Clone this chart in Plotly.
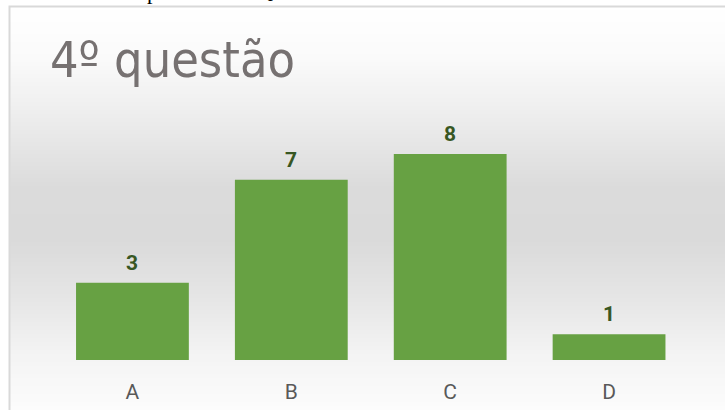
import plotly.graph_objects as go

categories = ["A", "B", "C", "D"]
values = [3, 7, 8, 1]
title_text = "4º questão"

W, H = 725, 410

fig = go.Figure()

fig.add_trace(go.Bar(
    x=categories, y=values,
    width=0.71,
    marker=dict(color="#67a143", line=dict(width=0)),
    hoverinfo="skip",
))

# value labels placed through the axis scale
annotations = []
for c, v in zip(categories, values):
    annotations.append(dict(x=c, y=v, xref="x", yref="y", text=str(v), showarrow=False,
                            yanchor="bottom", yshift=6,
                            font=dict(family="Roboto", size=21, color="#385723", weight="bold")))

# background gradient (decoration)
shapes = []
stops = [(6, 255), (60, 250), (120, 236), (190, 219), (240, 218), (300, 230), (350, 243), (410, 252)]
def grey(y):
    for (y0, c0), (y1, c1) in zip(stops[:-1], stops[1:]):
        if y0 <= y <= y1:
            t = (y - y0) / (y1 - y0)
            return round(c0 + (c1 - c0) * t)
    return 255
step = 4
for y in range(6, H, step):
    g = grey(y + step / 2)
    shapes.append(dict(type="rect", xref="paper", yref="paper",
                       x0=10 / W, x1=1.01, y0=1 - (y + step) / H, y1=1 - y / H,
                       fillcolor=f"rgb({g},{g},{g})", line=dict(width=0), layer="below"))
shapes.append(dict(type="rect", xref="paper", yref="paper",
                   x0=9.5 / W, x1=1.02, y0=-0.02, y1=1 - 6.5 / H,
                   line=dict(color="#d9d9d9", width=2), fillcolor="rgba(0,0,0,0)", layer="below"))

annotations += [
    dict(text=title_text, xref="paper", yref="paper", x=48 / W, y=1 - 29 / H,
         xanchor="left", yanchor="top", showarrow=False,
         font=dict(family="DejaVu Sans Condensed, Liberation Sans Narrow, Roboto Condensed, DejaVu Sans",
                   size=50, color="#767171")),
    dict(text="p", xref="paper", yref="paper", x=152 / W, y=1 + 8 / H,
         xanchor="center", yanchor="middle", showarrow=False,
         font=dict(family="Liberation Serif", size=22, color="#000000")),
    dict(text="Q", xref="paper", yref="paper", x=265 / W, y=1 + 9 / H,
         xanchor="center", yanchor="middle", showarrow=False,
         font=dict(family="Liberation Serif", size=22, color="#000000")),
]

fig.update_layout(
    width=W, height=H,
    margin=dict(l=0, r=0, t=0, b=0),
    paper_bgcolor="white", plot_bgcolor="rgba(0,0,0,0)",
    showlegend=False,
    shapes=shapes, annotations=annotations,
    xaxis=dict(domain=[53 / W, 688.5 / W], showgrid=False, zeroline=False, showline=False,
               ticks="", tickfont=dict(family="Roboto", size=21, color="#595959"),
               ticklabelstandoff=17, fixedrange=True),
    yaxis=dict(domain=[50 / H, 1], range=[0, 360 / 25.75], visible=False, fixedrange=True),
    bargap=0.29,
)

fig.write_html("out.html")
